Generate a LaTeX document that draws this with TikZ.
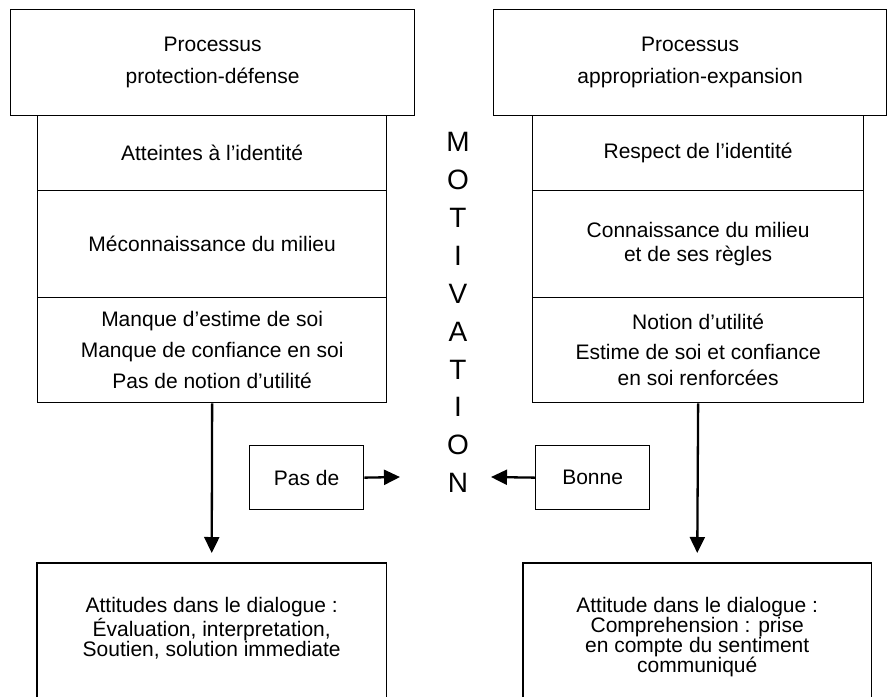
\documentclass[tikz,border=0pt]{standalone}
\usepackage{fontspec}
\setmainfont{Liberation Sans}
\usetikzlibrary{arrows.meta}
\begin{document}
\begin{tikzpicture}[x=1pt,y=-1pt,
  box/.style={draw,line width=1.3pt,anchor=north west,inner sep=0pt,align=center,
    font=\fontsize{21}{21}\selectfont},
  txt/.style={anchor=north west,inner sep=0pt,align=center,font=\fontsize{21}{20}\selectfont},
  letter/.style={font=\fontsize{28}{28}\selectfont,inner sep=0pt},
  arr/.style={line width=2.3pt,-{Triangle[length=16pt,width=15pt]}},
  side/.style={line width=1.3pt}]
\useasboundingbox (0,0) rectangle (887,697);
% left column
\node[box,minimum width=404pt,minimum height=106pt] (lt) at (10,9) {Processus\\[11pt]protection-défense};
\node[box,minimum width=349pt,minimum height=75pt] (l1) at (37,115) {Atteintes à l’identité};
\node[box,minimum width=349pt,minimum height=107pt] (l2) at (37,190) {Méconnaissance du milieu};
\node[box,minimum width=349pt,minimum height=105pt] (l3) at (37,297) {Manque d’estime de soi\\[10pt]Manque de confiance en soi\\[10pt]Pas de notion d’utilité};
% right column
\node[box,minimum width=393pt,minimum height=106pt] (rt) at (493,9) {Processus\\[11pt]appropriation-expansion};
\node[box,minimum width=331pt,minimum height=75pt] (r1) at (532,115) {Respect de l’identité};
\node[box,minimum width=331pt,minimum height=107pt] (r2) at (532,190) {Connaissance du milieu\\[3pt]et de ses règles};
\node[box,minimum width=331pt,minimum height=105pt] (r3) at (532,297) {Notion d’utilité\\[9pt]Estime de soi et confiance\\[5pt]en soi renforcées};
% bottom boxes (bottom edge cut by the page)
\node[txt,minimum width=349pt,minimum height=130pt] (lb) at (37,563) {Attitudes dans le dialogue :\\Évaluation, interpretation,\\Soutien, solution immediate};
\node[txt,minimum width=348pt,minimum height=148pt] (rb) at (523,563) {Attitude dans le dialogue :\\Comprehension : prise\\en compte du sentiment\\communiqué};
\draw[side] (lb.north west |- 0,697) -- (lb.north west) -- (lb.north east) -- (lb.north east |- 0,697);
\draw[side] (rb.north west |- 0,697) -- (rb.north west) -- (rb.north east) -- (rb.north east |- 0,697);
% small boxes
\node[box,minimum width=114pt,minimum height=64pt] (pas) at (249,445) {Pas de};
\node[box,minimum width=114pt,minimum height=64pt] (bon) at (535,445) {Bonne};
\coordinate (pasend) at (400,477);
\coordinate (bonend) at (491,477);
% MOTIVATION
\foreach \c [count=\i from 0] in {M,O,T,I,V,A,T,I,O,N} {
  \node[letter] (m\i) at (458,142+37.9*\i) {\c};
}
% arrows
\draw[arr,shorten >=10pt] (l3.south) -- (lb.north);
\draw[arr,shorten >=10pt] (r3.south) -- (rb.north);
\draw[arr] (pas.east) -- (pasend);
\draw[arr] (bon.west) -- (bonend);
\end{tikzpicture}
\end{document}
